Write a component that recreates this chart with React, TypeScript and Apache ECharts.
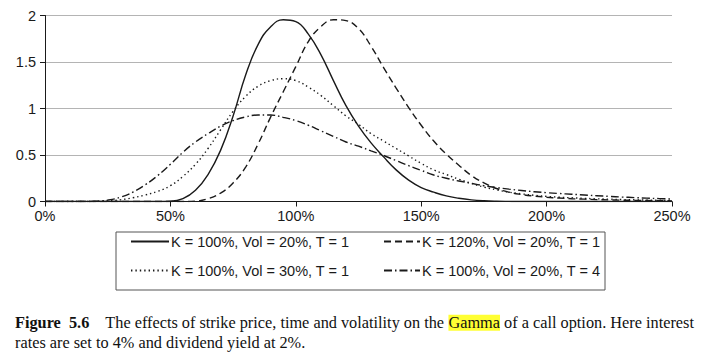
import React, { useEffect, useRef } from "react";
import * as echarts from "echarts";

// Spot as % of initial price (x axis)
const spot = [
  0, 5, 10, 15, 20, 25, 30, 35, 40, 45, 50, 55, 60, 65, 70, 75, 80, 85, 90, 95,
  100, 105, 110, 115, 120, 125, 130, 135, 140, 145, 150, 155, 160, 165, 170, 175,
  180, 185, 190, 195, 200, 205, 210, 215, 220, 225, 230, 235, 240, 245, 250,
];

// K = 100%, Vol = 20%, T = 1 (solid)
const gammaK100V20T1 = [
  0, 0, 0, 0, 0, 0, 0, 0, 0, 0, 0.002, 0.03, 0.12, 0.29, 0.55, 0.92, 1.36, 1.69, 1.88, 1.955,
  1.935, 1.8, 1.58, 1.3, 1.03, 0.81, 0.63, 0.48, 0.34, 0.23, 0.15, 0.1, 0.06, 0.035, 0.018, 0.008,
  0.003, 0.001, 0, 0, 0, 0, 0, 0, 0, 0, 0, 0, 0, 0, 0,
];

// K = 120%, Vol = 20%, T = 1 (dashed)
const gammaK120V20T1 = [
  0, 0, 0, 0, 0, 0, 0, 0, 0, 0, 0, 0, 0.004, 0.03, 0.09, 0.2, 0.37, 0.62, 0.91, 1.18,
  1.45, 1.72, 1.88, 1.955, 1.945, 1.86, 1.67, 1.44, 1.22, 1.01, 0.82, 0.65, 0.51, 0.39, 0.28, 0.2,
  0.14, 0.1, 0.075, 0.058, 0.046, 0.037, 0.03, 0.025, 0.02, 0.017, 0.014, 0.012, 0.01, 0.008, 0.007,
];

// K = 100%, Vol = 30%, T = 1 (dotted)
const gammaK100V30T1 = [
  0, 0, 0, 0, 0.001, 0.006, 0.018, 0.04, 0.07, 0.11, 0.17, 0.27, 0.4, 0.57, 0.77, 0.97, 1.13, 1.24, 1.3, 1.32,
  1.3, 1.23, 1.14, 1.03, 0.92, 0.83, 0.73, 0.65, 0.57, 0.49, 0.41, 0.34, 0.29, 0.24, 0.195, 0.155,
  0.125, 0.1, 0.082, 0.067, 0.055, 0.046, 0.04, 0.034, 0.029, 0.025, 0.021, 0.018, 0.015, 0.013, 0.011,
];

// K = 100%, Vol = 20%, T = 4 (dash-dot)
const gammaK100V20T4 = [
  0, 0, 0, 0, 0.003, 0.015, 0.045, 0.1, 0.18, 0.28, 0.4, 0.53, 0.64, 0.73, 0.81, 0.87, 0.91, 0.93, 0.93, 0.905,
  0.87, 0.82, 0.76, 0.7, 0.64, 0.595, 0.545, 0.495, 0.44, 0.385, 0.335, 0.285, 0.25, 0.22, 0.195, 0.17,
  0.15, 0.133, 0.118, 0.105, 0.095, 0.086, 0.078, 0.07, 0.062, 0.055, 0.048, 0.042, 0.036, 0.031, 0.027,
];

const seriesNames = [
  "K = 100%, Vol = 20%, T = 1",
  "K = 120%, Vol = 20%, T = 1",
  "K = 100%, Vol = 30%, T = 1",
  "K = 100%, Vol = 20%, T = 4",
];

const captionLine1 =
  "{b|Figure  5.6}    The effects of strike price, time and volatility on the {h|Gamma} of a call option. Here interest";
const captionLine2 = "rates are set to 4% and dividend yield at 2%.";

const SANS = "Liberation Sans, Arial, Helvetica, sans-serif";
const SERIF = "Liberation Serif, Times New Roman, serif";
const INK = "#1a1a1a";

export default function App() {
  const ref = useRef<HTMLDivElement>(null);

  useEffect(() => {
    if (!ref.current) return;
    const chart = echarts.init(ref.current, null, { renderer: "svg" });

    const allData = [gammaK100V20T1, gammaK120V20T1, gammaK100V30T1, gammaK100V20T4];
    const dashes: any[] = ["solid", [7, 4], [1.4, 3], [8, 3, 1.5, 3]];

    const series = allData.map((arr, i) => ({
      name: seriesNames[i],
      type: "line",
      smooth: 0.45,
      symbol: "none",
      data: spot.map((s, j) => [s, arr[j]]),
      lineStyle: { color: INK, width: 1.4, type: dashes[i] },
      itemStyle: { color: INK },
    }));

    const legendPos = [
      { left: 130, top: 234, w: 38 },
      { left: 383, top: 234, w: 36 },
      { left: 130, top: 263, w: 38 },
      { left: 383, top: 263, w: 36 },
    ];

    const legend = seriesNames.map((n, i) => ({
      data: [n],
      left: legendPos[i].left,
      top: legendPos[i].top,
      padding: 0,
      itemWidth: legendPos[i].w,
      itemHeight: 14,
      itemGap: 0,
      selectedMode: false,
      itemStyle: { opacity: 0, color: "rgba(0,0,0,0)", borderWidth: 0 },
      textStyle: { fontFamily: SANS, fontSize: 14.5, color: INK, padding: [0, 0, 0, -3] },
    }));

    chart.setOption({
      animation: false,
      backgroundColor: "#ffffff",
      grid: { left: 45, top: 15.5, width: 627, height: 186, containLabel: false },
      title: {
        text: captionLine1 + "\n" + captionLine2,
        left: 15,
        top: 313,
        padding: 0,
        textStyle: {
          fontFamily: SERIF,
          fontSize: 16.3,
          fontWeight: "normal",
          color: "#111",
          lineHeight: 19.5,
          rich: {
            b: { fontFamily: SERIF, fontSize: 16.3, fontWeight: "bold", color: "#111", lineHeight: 19.5 },
            h: { fontFamily: SERIF, fontSize: 16.3, color: "#111", backgroundColor: "#ffff33", lineHeight: 19.5 },
          },
        },
      },
      legend,
      xAxis: {
        type: "value",
        min: 0,
        max: 250,
        interval: 50,
        axisLine: { show: true, lineStyle: { color: INK, width: 1 } },
        axisTick: { show: true, length: 5, lineStyle: { color: INK } },
        splitLine: { show: false },
        axisLabel: {
          formatter: "{value}%",
          fontFamily: SANS,
          fontSize: 14.5,
          color: INK,
          margin: 7,
        },
      },
      yAxis: {
        type: "value",
        min: 0,
        max: 2,
        interval: 0.5,
        axisLine: { show: true, lineStyle: { color: INK, width: 1 } },
        axisTick: { show: true, length: 5, lineStyle: { color: INK } },
        splitLine: { show: true, lineStyle: { color: "#b4b4b4", width: 1 } },
        axisLabel: {
          fontFamily: SANS,
          fontSize: 14.5,
          color: INK,
          margin: 9,
        },
      },
      graphic: [
        {
          type: "rect",
          shape: { x: 116, y: 232, width: 489, height: 58 },
          style: { fill: "none", stroke: "#555", lineWidth: 1 },
          silent: true,
        },
      ],
      series,
    });

    return () => chart.dispose();
  }, []);

  return <div ref={ref} style={{ width: 709, height: 357, position: "absolute", left: 0, top: 0 }} />;
}
